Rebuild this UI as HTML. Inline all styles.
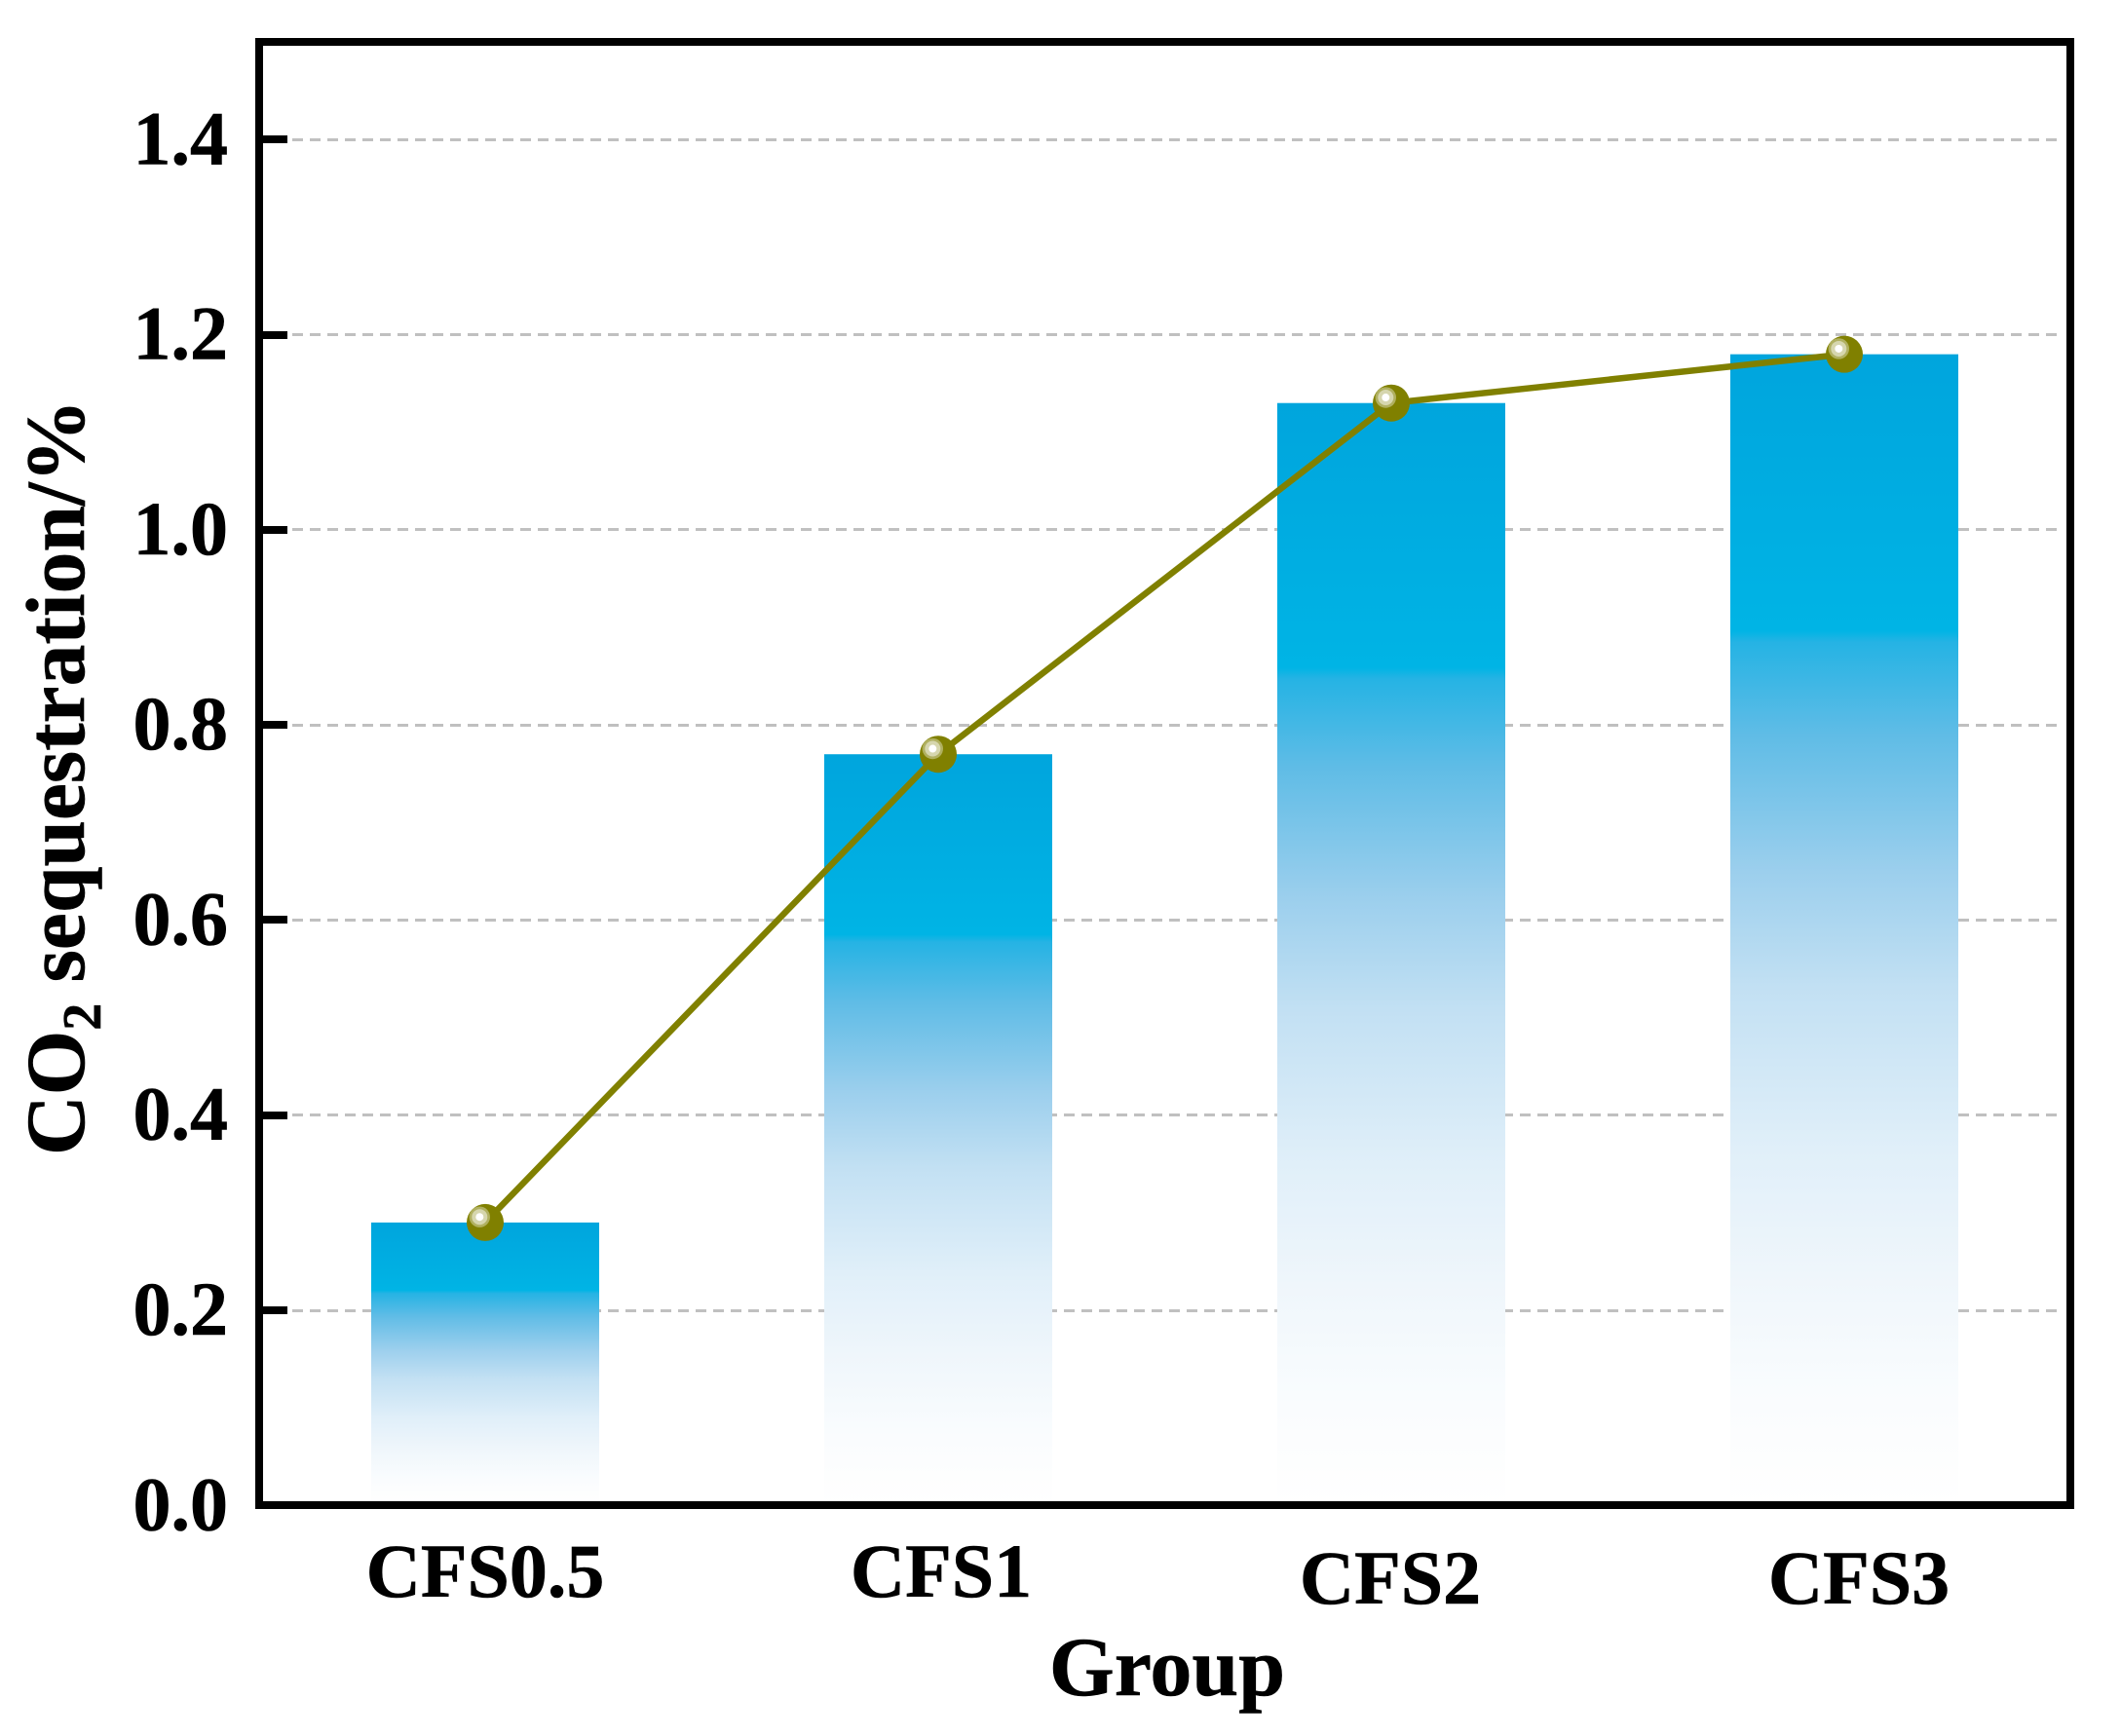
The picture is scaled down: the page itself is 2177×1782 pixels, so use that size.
<!DOCTYPE html>
<html lang="en">
<head>
<meta charset="utf-8">
<title>CO2 sequestration by group</title>
<style>
html,body{margin:0;padding:0;background:#fff;width:2177px;height:1782px;overflow:hidden}
svg{display:block}
text{font-family:"Liberation Serif",serif;font-weight:bold;fill:#000;stroke:#000;stroke-width:0.6}
</style>
</head>
<body>
<svg id="chart" xmlns="http://www.w3.org/2000/svg" width="2177" height="1782" viewBox="0 0 2177 1782">
  <defs>
    <linearGradient id="barFade" x1="0" y1="0" x2="0" y2="1">
      <stop offset="0" stop-color="#00a5dd"/>
      <stop offset="0.24" stop-color="#00b4e5"/>
      <stop offset="0.25" stop-color="#25b3e4"/>
      <stop offset="0.33" stop-color="#5fbce6"/>
      <stop offset="0.45" stop-color="#9ccfed"/>
      <stop offset="0.55" stop-color="#c2e0f3"/>
      <stop offset="0.69" stop-color="#e0eff9"/>
      <stop offset="0.80" stop-color="#eff6fb"/>
      <stop offset="0.90" stop-color="#f9fcfe"/>
      <stop offset="0.94" stop-color="#fcfdfe"/>
      <stop offset="1" stop-color="#ffffff"/>
    </linearGradient>
  </defs>
  <rect x="0" y="0" width="2177" height="1782" fill="#fff"/>
  <g id="grid"></g>
  <g id="bars"></g>
  <g id="line"></g>
  <g id="markers"></g>
  <rect x="266" y="43" width="1859" height="1502" fill="none" stroke="#000" stroke-width="8"/>
  <g id="ticks"></g>
  <g id="ylabels"></g>
  <g id="xlabels"></g>
  <text x="1198" y="1740" font-size="86" text-anchor="middle">Group</text>
  <text transform="translate(86 1186) rotate(-90)" font-size="85.5">CO<tspan font-size="56" dy="17">2</tspan><tspan dy="-17"> sequestration/%</tspan></text>
</svg>
<script>
const categories = ["CFS0.5", "CFS1", "CFS2", "CFS3"];
const seriesValues = [0.29, 0.77, 1.13, 1.18];
const yTickValues = [0.0, 0.2, 0.4, 0.6, 0.8, 1.0, 1.2, 1.4];
const yTickLabels = ["0.0", "0.2", "0.4", "0.6", "0.8", "1.0", "1.2", "1.4"];

const NS = "http://www.w3.org/2000/svg";
function xScale(i) { return 498 + 465 * i; }
function yScale(v) { return 1545.3 - 1001.4 * v; }
function make(tag, attrs, parent) {
  const el = document.createElementNS(NS, tag);
  for (const k in attrs) el.setAttribute(k, attrs[k]);
  parent.appendChild(el);
  return el;
}
const BAR_WIDTH = 234;
const gridG = document.getElementById("grid");
const barsG = document.getElementById("bars");
const lineG = document.getElementById("line");
const markersG = document.getElementById("markers");
const ticksG = document.getElementById("ticks");
const yLabG = document.getElementById("ylabels");
const xLabG = document.getElementById("xlabels");

yTickValues.forEach(function (v, i) {
  const y = yScale(v);
  if (v > 0) {
    const gy = Math.round(y - 0.5) + 0.5;
    const g = make("line", {x1: 300, x2: 2117, y1: gy, y2: gy, stroke: "#c0c0c0", "stroke-width": 3, "stroke-dasharray": "11 7"}, gridG);
    
    
    const ty = Math.round(y);
    const t = make("line", {x1: 270, x2: 295, y1: ty, y2: ty, stroke: "#000", "stroke-width": 8}, ticksG);
    
    
  }
  const lab = make("text", {x: 234, y: y + 25, "font-size": 78, "text-anchor": "end"}, yLabG);
  lab.textContent = yTickLabels[i];
  
  
});

seriesValues.forEach(function (v, i) {
  const top = yScale(v);
  const bar = make("rect", {x: xScale(i) - BAR_WIDTH / 2, y: top, width: BAR_WIDTH, height: yScale(0) - top, fill: "url(#barFade)"}, barsG);
  
  
});

const pts = seriesValues.map(function (v, i) { return xScale(i) + "," + yScale(v); }).join(" ");
const poly = make("polyline", {points: pts, fill: "none", stroke: "#808000", "stroke-width": 6.5, "stroke-linejoin": "round"}, lineG);



seriesValues.forEach(function (v, i) {
  const cx = xScale(i), cy = yScale(v);
  const g = make("g", {}, markersG);
  
  
  make("circle", {cx: cx, cy: cy, r: 19, fill: "#808000"}, g);
  make("circle", {cx: cx - 5.7, cy: cy - 5.7, r: 10.7, fill: "#b0b060"}, g);
  make("circle", {cx: cx - 5.7, cy: cy - 5.7, r: 8, fill: "#d6d6ae"}, g);
  make("circle", {cx: cx - 5.7, cy: cy - 5.7, r: 4, fill: "#ffffff"}, g);
});

const xLabelNudgeX = [0, 3, -1, 15];
const xLabelNudgeY = [0, 0, 7, 7];
categories.forEach(function (c, i) {
  const lab = make("text", {x: xScale(i) + xLabelNudgeX[i], y: 1639 + xLabelNudgeY[i], "font-size": 78, "text-anchor": "middle"}, xLabG);
  lab.textContent = c;
  
  
});
</script>
</body>
</html>
